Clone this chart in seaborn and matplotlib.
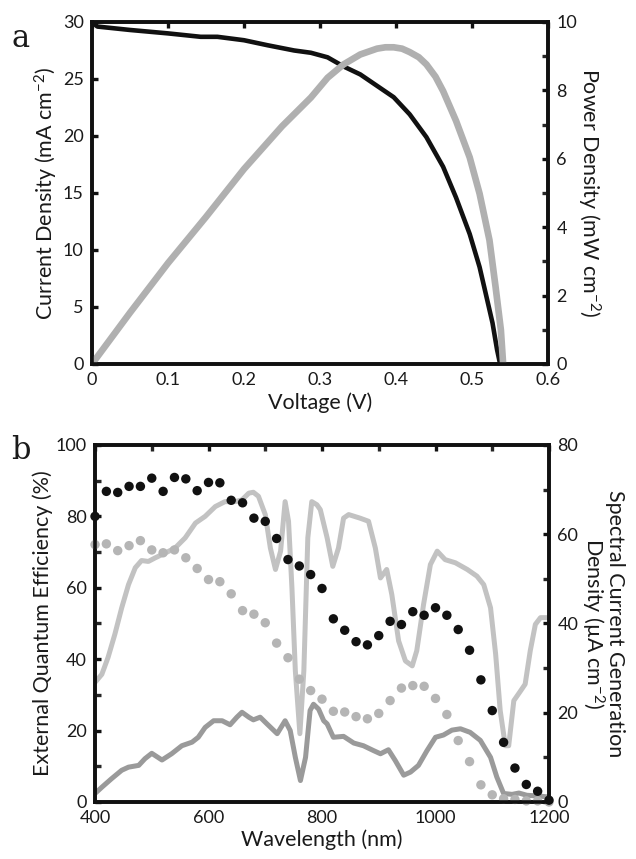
import numpy as np
import pandas as pd
import matplotlib
matplotlib.use("Agg")
import matplotlib.pyplot as plt
import seaborn as sns

# ---- panel a: J-V and power curves ----
volt_j = [0, 0.007, 0.05, 0.1, 0.143, 0.165, 0.2, 0.231, 0.266, 0.288, 0.31, 0.331, 0.353,
          0.375, 0.397, 0.418, 0.44, 0.462, 0.479, 0.497, 0.51, 0.518, 0.527, 0.533, 0.537]
current = [30.0, 29.6, 29.3, 29.0, 28.7, 28.7, 28.4, 27.96, 27.5, 27.3, 26.9, 26.1, 25.4,
           24.4, 23.4, 21.9, 19.9, 17.3, 14.6, 11.4, 8.5, 6.2, 3.6, 1.25, 0.0]

volt_p = [0, 0.05, 0.1, 0.15, 0.2, 0.25, 0.288, 0.31, 0.331, 0.353, 0.375, 0.386, 0.397,
          0.408, 0.418, 0.43, 0.44, 0.452, 0.462, 0.479, 0.497, 0.51, 0.523, 0.531, 0.538, 0.541]
power = [0, 1.5, 2.95, 4.3, 5.7, 6.95, 7.79, 8.37, 8.76, 9.05, 9.22, 9.26, 9.26,
         9.22, 9.12, 8.97, 8.76, 8.4, 7.98, 7.11, 6.04, 4.98, 3.62, 2.26, 1.0, 0.0]

# ---- panel b: EQE dots and spectral curves ----
wl_dots = list(range(400, 1201, 20))
eqe_black = [80.0, 87.0, 86.7, 88.4, 88.4, 90.7, 87.0, 90.9, 90.5, 87.2, 89.5, 89.4, 84.5,
             83.8, 79.5, 78.6, 73.8, 67.9, 66.1, 63.7, 59.8, 51.3, 48.1, 44.9, 44.0, 46.6,
             50.6, 49.7, 53.3, 52.3, 54.4, 52.3, 48.3, 42.5, 34.2, 25.6, 16.7, 9.5, 4.9, 3.0, 0.5]
eqe_gray = [72.1, 72.3, 70.4, 71.8, 73.2, 70.6, 69.8, 70.6, 68.4, 65.4, 62.3, 61.7, 58.3,
            53.6, 52.6, 50.2, 44.5, 40.4, 34.4, 31.2, 28.8, 25.4, 25.2, 23.9, 23.3, 24.8,
            28.4, 31.9, 32.6, 32.4, 29.0, 24.5, 17.2, 11.3, 4.8, 2.0, 0.9, 0.7, 0.3, 0.3, 0.0]

wl_light = [400, 412, 423, 435, 447, 459, 471, 482, 494, 506, 524, 541, 559, 577, 594, 612,
            629, 647, 659, 671, 679, 688, 700, 709, 718, 727, 735, 741, 747, 753, 761, 768,
            775, 782, 791, 797, 809, 819, 829, 838, 847, 867, 882, 894, 903, 914, 923, 935,
            947, 959, 967, 979, 991, 1003, 1017, 1035, 1056, 1073, 1085, 1097, 1106, 1114,
            1123, 1129, 1138, 1150, 1158, 1167, 1176, 1185, 1200]
light_curve = [26.8, 28.6, 32.4, 37.6, 43.5, 48.7, 52.5, 54.1, 53.9, 54.7, 55.8, 56.9, 59.2,
               62.5, 64.0, 66.2, 67.3, 67.3, 67.7, 69.2, 69.4, 68.5, 64.4, 56.9, 52.1, 56.2,
               67.3, 62.9, 48.0, 29.4, 15.3, 29.4, 59.2, 67.3, 66.6, 65.5, 59.2, 52.8, 56.9,
               63.6, 64.4, 63.6, 62.9, 56.9, 50.2, 52.1, 46.5, 36.1, 31.6, 30.5, 33.9, 44.3,
               53.2, 56.2, 54.3, 53.6, 52.1, 50.6, 48.7, 43.5, 33.1, 20.5, 12.6, 12.6, 22.7,
               24.9, 26.4, 33.9, 39.8, 41.3, 41.3]

wl_dark = [400, 412, 429, 447, 459, 477, 488, 500, 518, 535, 553, 571, 582, 594, 609, 624,
           638, 650, 659, 671, 679, 691, 703, 721, 735, 744, 753, 762, 771, 779, 785, 794,
           803, 809, 820, 838, 856, 873, 891, 903, 917, 929, 944, 956, 970, 985, 1000, 1014,
           1029, 1044, 1061, 1079, 1097, 1108, 1120, 1135, 1147, 1161, 1185, 1200]
dark_curve = [1.9, 3.3, 5.2, 7.1, 7.8, 8.2, 9.7, 10.9, 9.4, 10.8, 12.6, 13.4, 14.5, 16.7,
              18.2, 18.2, 17.3, 19.0, 20.1, 19.0, 18.4, 19.0, 17.5, 15.3, 18.2, 16.0, 10.0,
              4.8, 10.0, 20.5, 21.9, 20.8, 18.2, 17.5, 14.5, 14.7, 13.2, 12.6, 11.5, 10.8,
              11.7, 9.3, 6.0, 6.7, 8.2, 11.5, 14.5, 15.0, 16.1, 16.4, 15.6, 13.8, 10.0, 5.6,
              1.9, 1.7, 2.0, 1.5, 1.3, 1.1]

sns.set_style("white")
plt.rcParams['font.family'] = ['Lato', 'DejaVu Sans']
plt.rcParams['mathtext.default'] = 'regular'
text_col = '#1a1a1a'

fig = plt.figure(figsize=(6.36, 8.59), dpi=100)
ax_a = fig.add_axes([0.1447, 0.5763, 0.7169, 0.3981])
ax_b = fig.add_axes([0.1494, 0.0664, 0.7138, 0.4156])


def style_axes(ax, lw=2.6):
    for s in ax.spines.values():
        s.set_linewidth(lw)
        s.set_color('#111111')
    ax.tick_params(direction='in', width=2.4, length=4, labelsize=13,
                   colors='#111111', labelcolor=text_col, pad=6)


# panel a
ax_a2 = ax_a.twinx()
sns.lineplot(x=volt_j, y=current, ax=ax_a, color='#111111', lw=3.3, sort=False)
sns.lineplot(x=volt_p, y=power, ax=ax_a2, color='#b0b0b0', lw=4.8, sort=False)
ax_a.set_xlim(0, 0.6)
ax_a.set_ylim(0, 30)
ax_a2.set_ylim(0, 10)
ax_a.set_xticks(np.arange(0, 0.61, 0.1))
ax_a.set_xticklabels(['0', '0.1', '0.2', '0.3', '0.4', '0.5', '0.6'])
ax_a.set_yticks(range(0, 31, 5))
ax_a2.set_yticks(range(0, 11, 2))
ax_a2.set_yticks(range(0, 11, 1), minor=True)
for a in (ax_a, ax_a2):
    style_axes(a)
ax_a.tick_params(top=True)
ax_a2.tick_params(which='minor', direction='in', width=2.4, length=4, right=True)
ax_a.set_xlabel('Voltage (V)', fontsize=15.5, color=text_col, labelpad=3)
ax_a.set_ylabel('Current Density (mA cm$^{-2}$)', fontsize=15.5, color=text_col, labelpad=2)
ax_a2.set_ylabel('Power Density (mW cm$^{-2}$)', fontsize=15.5, color=text_col,
                 rotation=270, labelpad=18)

# panel b
ax_b2 = ax_b.twinx()
sns.lineplot(x=wl_light, y=light_curve, ax=ax_b2, color='#c2c2c2', lw=3.6, sort=False)
sns.lineplot(x=wl_dark, y=dark_curve, ax=ax_b2, color='#9a9a9a', lw=3.6, sort=False)
sns.scatterplot(x=wl_dots, y=eqe_gray, ax=ax_b, color='#b5b5b5', s=46, edgecolor='none',
                clip_on=False)
sns.scatterplot(x=wl_dots, y=eqe_black, ax=ax_b, color='#111111', s=46, edgecolor='none',
                clip_on=False)
ax_b.set_zorder(ax_b2.get_zorder() + 1)
ax_b.patch.set_visible(False)
ax_b.set_xlim(400, 1200)
ax_b.set_ylim(0, 100)
ax_b2.set_ylim(0, 80)
ax_b.set_xticks(range(400, 1201, 200))
ax_b.set_xticks(range(400, 1201, 100), minor=True)
ax_b.set_yticks(range(0, 101, 20))
ax_b.set_yticks(range(0, 101, 10), minor=True)
ax_b2.set_yticks(range(0, 81, 20))
ax_b2.set_yticks(range(0, 81, 10), minor=True)
for a in (ax_b, ax_b2):
    style_axes(a)
    a.tick_params(which='minor', direction='in', width=2.4, length=4)
ax_b.tick_params(which='both', top=True)
ax_b.set_xlabel('Wavelength (nm)', fontsize=15.5, color=text_col, labelpad=2)
ax_b.set_ylabel('External Quantum Efficiency (%)', fontsize=15.5, color=text_col, labelpad=2)
ax_b2.set_ylabel('Spectral Current Generation\nDensity (\u00b5A cm$^{-2}$)', fontsize=15.5,
                 color=text_col, rotation=270, labelpad=34, linespacing=0.95)

fig.text(0.018, 0.955, 'a', fontsize=22, family='DejaVu Serif', color=text_col, va='center')
fig.text(0.018, 0.476, 'b', fontsize=22, family='DejaVu Serif', color=text_col, va='center')

fig.savefig('out.png', dpi=100)
